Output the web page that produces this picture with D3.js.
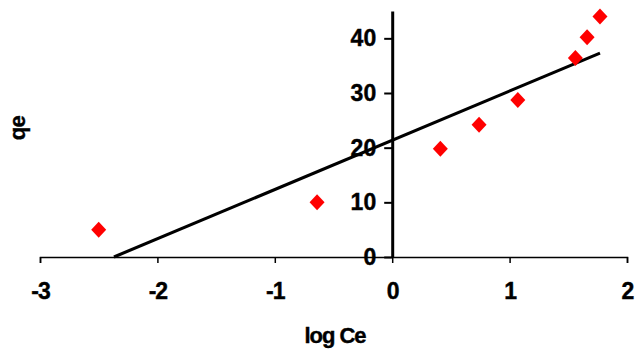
<!DOCTYPE html>
<html>
<head>
<meta charset="utf-8">
<script src="https://cdn.jsdelivr.net/npm/d3@7"></script>
<style>
  body { margin: 0; background: #fff; }
  svg text { font-family: "Liberation Sans", Arial, sans-serif; font-weight: bold; }
</style>
</head>
<body>
<div id="chart"></div>
<script>
// Data
const logCe = [-2.5, -0.64, 0.41, 0.74, 1.07, 1.56, 1.66, 1.77];
const qe = [5.0, 10.0, 19.8, 24.2, 28.7, 36.4, 40.2, 44.0];
// Linear trendline end points (clipped at qe = 0)
const trendX = [-2.37, 1.77];
const trendY = [0, 37.3];
const xTicks = [-3, -2, -1, 0, 1, 2];
const yTicks = [0, 10, 20, 30, 40];

const width = 635;
const height = 353;
const fontSize = '22px';
const tickFontSize = '23px';

const svg = d3.select('#chart')
  .append('svg')
  .attr('width', width)
  .attr('height', height);

const x = d3.scaleLinear().domain([-3, 2]).range([40, 627]);
const y = d3.scaleLinear().domain([0, 45]).range([257, 11]);

// X axis (at qe = 0)
const xAxis = svg.append('g')
  .attr('transform', `translate(0, ${y(0)})`)
  .call(d3.axisBottom(x).tickValues(xTicks).tickSize(6).tickPadding(20).tickFormat(d3.format('d')));
xAxis.select('.domain').attr('stroke', '#000').attr('stroke-width', 1.5);
xAxis.selectAll('.tick line').attr('stroke', '#000').attr('stroke-width', 1.5);
xAxis.selectAll('.tick text')
  .style('font-size', tickFontSize)
  .style('letter-spacing', '-1px')
  .attr('fill', '#000')
  .attr('stroke', '#000')
  .attr('stroke-width', 0.4)
  .text(d => d < 0 ? '-' + Math.abs(d) : d);

// Y axis (at log Ce = 0)
const yAxis = svg.append('g')
  .attr('transform', `translate(${x(0)}, 0)`)
  .call(d3.axisLeft(y).tickValues(yTicks).tickSize(8).tickPadding(8).tickSizeOuter(0));
yAxis.select('.domain').attr('stroke', '#000').attr('stroke-width', 3);
yAxis.selectAll('.tick line').attr('stroke', '#000').attr('stroke-width', 2);
yAxis.selectAll('.tick text')
  .style('font-size', tickFontSize)
  .attr('fill', '#000')
  .attr('stroke', '#000')
  .attr('stroke-width', 0.4);

// Trendline
svg.append('line')
  .attr('x1', x(trendX[0]))
  .attr('y1', y(trendY[0]))
  .attr('x2', x(trendX[1]))
  .attr('y2', y(trendY[1]))
  .attr('stroke', '#000')
  .attr('stroke-width', 3);

// Diamond markers
const pts = logCe.map((v, i) => ({ x: v, y: qe[i] }));
svg.selectAll('path.pt')
  .data(pts)
  .enter()
  .append('path')
  .attr('class', 'pt')
  .attr('d', 'M0,-8 L7.5,0 L0,8 L-7.5,0 Z')
  .attr('transform', d => `translate(${x(d.x)}, ${y(d.y)})`)
  .attr('fill', '#ff0000');

// Axis titles
svg.append('text')
  .attr('x', 335)
  .attr('y', 343)
  .attr('text-anchor', 'middle')
  .style('font-size', fontSize)
  .style('letter-spacing', '-1px')
  .attr('stroke', '#000')
  .attr('stroke-width', 0.4)
  .text('log Ce');

svg.append('text')
  .attr('transform', 'translate(25, 128) rotate(-90)')
  .attr('text-anchor', 'middle')
  .style('font-size', fontSize)
  .style('letter-spacing', '-0.5px')
  .attr('stroke', '#000')
  .attr('stroke-width', 0.4)
  .text('qe');
</script>
</body>
</html>
